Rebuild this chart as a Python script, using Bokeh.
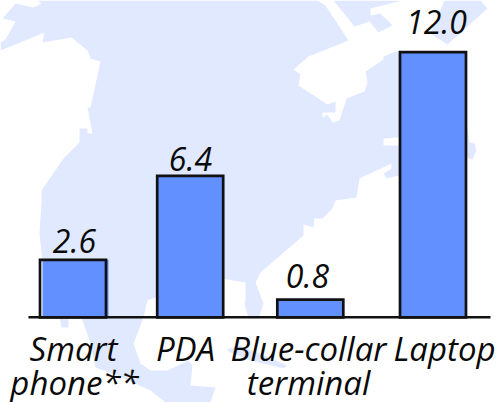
from bokeh.plotting import figure
from bokeh.models import Range1d, ColumnDataSource
from bokeh.core.properties import value
from bokeh.embed import file_html
from bokeh.resources import INLINE

categories = ["Smart phone**", "PDA", "Blue-collar terminal", "Laptop"]
values = [2.6, 6.4, 0.8, 12.0]
value_labels = ["2.6", "6.4", "0.8", "12.0"]
category_lines = [["Smart", "phone**"], ["PDA"], ["Blue-collar", "terminal"], ["Laptop"]]

# Decorative background map outline (page pixels)
mainland = [(37,0),(317,0),(325,5),(348,40),(308,56),(293,69),(300,74),(298,85),(327,104),(335,101),(335,112),
    (322,112),(322,117),(327,114),(332,122),(339,120),(346,98),(364,91),(367,82),(365,71),(383,59),(383,56),
    (390,53),(400,50),(460,110),(467,128),(469,142),(474,143),(476,150),(472,159),(467,157),(430,130),(398,137),
    (383,138),(383,145),(398,145),(430,170),(398,175),(386,178),(383,173),(391,168),(391,163),(359,178),(356,197),
    (335,200),(332,208),(322,218),(314,218),(313,227),(303,224),(303,235),(260,272),(255,282),(263,303),(258,318),
    (248,318),(244,303),(245,300),(245,282),(220,278),(155,297),(147,300),(143,317),(133,343),(140,363),(150,370),
    (167,370),(188,360),(192,365),(190,385),(215,387),(210,402),(165,402),(150,390),(117,375),(95,367),(90,343),
    (82,320),(42,262),(39,233),(41,201),(41,190),(63,158),(79,142),(79,128),(87,128),(87,133),(92,133),(87,107),
    (90,107),(100,61),(90,58),(87,50),(71,37),(42,42),(44,32),(0,50),(0,42),(5,39),(15,21),(2,18),(15,3),(33,7),(41,3)]
arctic_a = [(333,0),(402,0),(370,8),(370,15),(380,13),(392,25),(378,32),(369,21),(354,26)]
arctic_b = [(444,0),(480,0),(487,8),(447,44),(430,33)]
baja = [(59,316),(68,316),(68,327),(61,327)]
cuba = [(226,349),(240,345),(287,365),(283,368),(250,360),(230,352)]
map_shapes = [mainland, arctic_a, arctic_b, baja, cuba]

W, H = 497, 402
BASE, SCALE = 316.8, 22.1

p = figure(width=W, height=H, output_backend="svg", toolbar_location=None,
           x_range=Range1d(0, W),
           y_range=Range1d(-(H - BASE) / SCALE, BASE / SCALE),
           min_border=0, outline_line_color=None, background_fill_color="white")
p.extra_y_ranges = {"px": Range1d(H, 0)}
p.xaxis.visible = False
p.yaxis.visible = False
p.grid.visible = False

p.patches([[q[0] for q in s] for s in map_shapes], [[q[1] for q in s] for s in map_shapes],
          y_range_name="px", fill_color="#e0e9ff", line_color=None)

bar_centres = [72.5, 189.7, 309.8, 432.5]
fill_shift = [2.5, 0, 0, 0]
label_centres = [74, 190, 307, 436]
label_dy = [-6.8, -5, -11.3, -17.8]
FONT = value("Open Sans")
BLACK = "#0a0a0a"
TEXT_SHIFT = -12

for i, cat in enumerate(categories):
    src = ColumnDataSource(dict(x=[bar_centres[i]], xf=[bar_centres[i] + fill_shift[i]],
                                xt=[label_centres[i]], v=[values[i]], t=[value_labels[i]]))
    p.vbar(x="xf", top="v", bottom=0, width=66, source=src, fill_color="#6290ff", line_color=None)
    p.vbar(x="x", top="v", bottom=0, width=66, source=src, fill_color=None, line_color="#111111",
           line_width=2.7, line_join="miter")
    p.text(x="xt", y="v", text="t", source=src,
           text_font=FONT, text_font_style="italic", text_font_size="32px", text_color=BLACK,
           text_align="center", text_baseline="alphabetic", y_offset=label_dy[i] + TEXT_SHIFT)

p.segment(x0=[28], x1=[490], y0=[0], y1=[0], line_color="#111111", line_width=2.6)

line_centres = [[73, 74], [185], [308, 308], [444]]
line_baselines = [[360, 394], [360], [360, 394], [360]]
for i, cat in enumerate(categories):
    for txt, cx, by in zip(category_lines[i], line_centres[i], line_baselines[i]):
        src = ColumnDataSource(dict(x=[cx], y=[0], t=[txt]))
        p.text(x="x", y="y", text="t", source=src,
               text_font=FONT, text_font_style="italic", text_font_size="33px", text_color=BLACK,
               text_align="center", text_baseline="alphabetic", y_offset=by - BASE + TEXT_SHIFT)

open("out.html", "w").write(file_html(p, INLINE))
